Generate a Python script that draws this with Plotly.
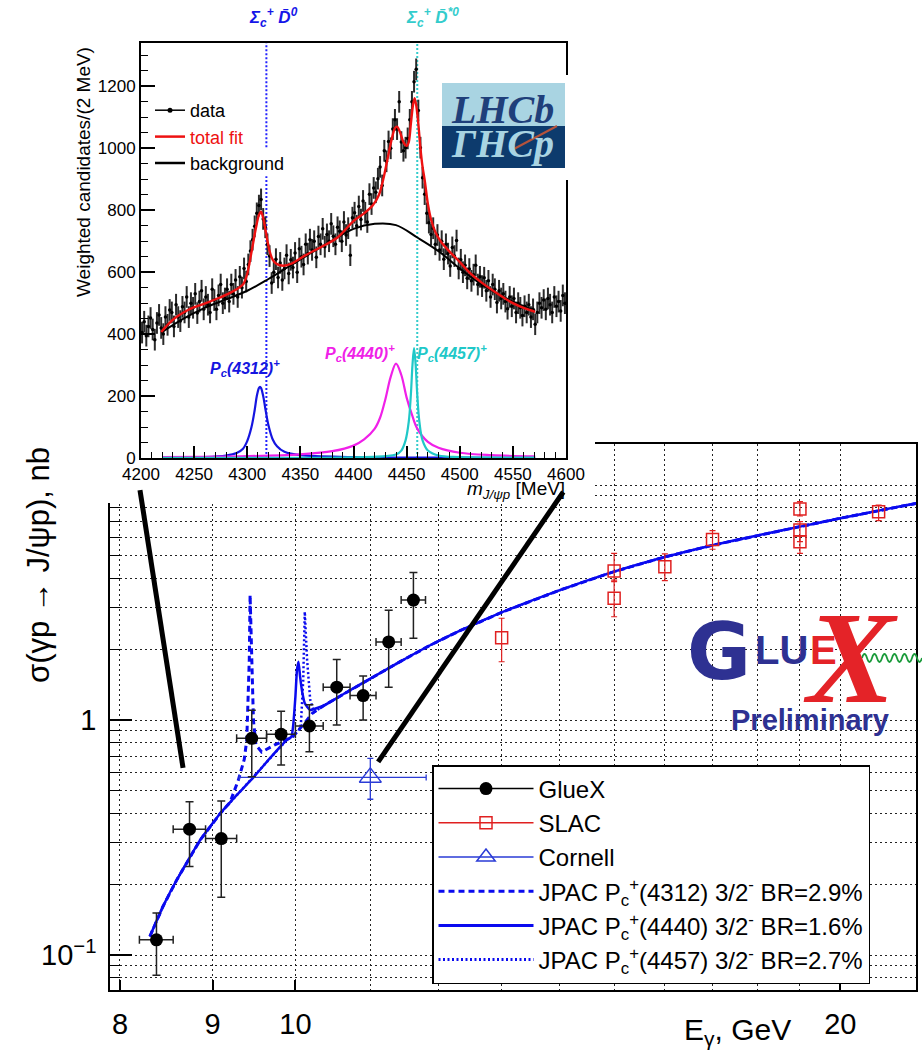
import plotly.graph_objects as go

W, H = 922, 1052


def px(x):
    return x / W


def py(y):
    return 1 - y / H


SANS = "Liberation Sans, Arial, Helvetica, sans-serif"
SERIF = "Liberation Serif, DejaVu Serif, serif"

# ---------------- main panel: sigma(gamma p -> J/psi p) versus E_gamma ----------------
gluex_E = [8.38, 8.74, 9.10, 9.46, 9.82, 10.18, 10.54, 10.90, 11.26, 11.62]
gluex_E_lo = [8.20, 8.56, 8.92, 9.28, 9.64, 10.00, 10.36, 10.72, 11.08, 11.44]
gluex_E_hi = [8.56, 8.92, 9.28, 9.64, 10.00, 10.36, 10.72, 11.08, 11.44, 11.80]
gluex_sig = [0.116, 0.343, 0.313, 0.836, 0.869, 0.943, 1.38, 1.27, 2.15, 3.24]
gluex_sig_hi = [0.151, 0.449, 0.452, 1.10, 1.09, 1.16, 1.81, 1.54, 2.93, 4.24]
gluex_sig_lo = [0.082, 0.238, 0.176, 0.574, 0.643, 0.733, 0.952, 1.00, 1.38, 2.23]

slac_E = [13.0, 15.0, 15.0, 16.0, 17.0, 19.0, 19.0, 19.0, 21.0]
slac_sig = [2.24, 3.30, 4.31, 4.49, 5.87, 7.91, 6.44, 5.74, 7.70]
slac_sig_hi = [2.71, 3.94, 5.12, 5.09, 6.39, 8.49, 6.98, 6.07, 8.22]
slac_sig_lo = [1.77, 2.75, 3.88, 3.92, 5.33, 7.38, 5.74, 5.12, 7.05]

cornell_E = [11.0]
cornell_E_lo = [9.31]
cornell_E_hi = [11.81]
cornell_sig = [0.570]
cornell_sig_hi = [0.687]
cornell_sig_lo = [0.460]

# JPAC model curves
jpac4440_E = [8.31, 8.45, 8.60, 8.86, 9.09, 9.28, 9.48, 9.68, 9.89, 9.95, 9.97, 10.00,
              10.02, 10.04, 10.06, 10.09, 10.12, 10.19, 10.38, 10.65, 11.0, 11.4, 11.87, 12.33,
              13.0, 14.0, 15.0, 16.0, 17.0, 18.0, 19.0, 20.0, 21.0, 22.0, 22.6]
jpac4440_sig = [0.120, 0.161, 0.209, 0.309, 0.401, 0.479, 0.570, 0.687, 0.822, 0.849, 0.936, 1.256,
                1.632, 1.77, 1.529, 1.299, 1.178, 1.103, 1.158, 1.30, 1.50, 1.755, 2.08, 2.40,
                2.87, 3.57, 4.28, 4.94, 5.54, 6.10, 6.65, 7.22, 7.78, 8.34, 8.68]

jpac4312_E = [8.31, 8.45, 8.60, 8.86, 9.09, 9.20, 9.30, 9.37, 9.40, 9.43, 9.44, 9.46, 9.48,
              9.51, 9.58, 9.74, 9.96, 10.10, 10.22, 10.38, 10.65, 11.0, 11.4, 11.87, 12.33,
              13.0, 14.0, 15.0, 16.0, 17.0, 18.0, 19.0, 20.0, 21.0, 22.0, 22.6]
jpac4312_sig = [0.120, 0.161, 0.209, 0.309, 0.401, 0.445, 0.555, 0.680, 0.822, 1.80, 3.40, 1.80, 1.00,
                0.783, 0.731, 0.783, 0.846, 0.955, 1.07, 1.158, 1.30, 1.50, 1.755, 2.08, 2.40,
                2.87, 3.57, 4.28, 4.94, 5.54, 6.10, 6.65, 7.22, 7.78, 8.34, 8.68]

jpac4457_E = [8.31, 8.45, 8.60, 8.86, 9.09, 9.28, 9.48, 9.68, 9.89, 9.96, 10.04, 10.07,
              10.10, 10.12, 10.15, 10.19, 10.24, 10.34, 10.38, 10.65, 11.0, 11.4, 11.87, 12.33,
              13.0, 14.0, 15.0, 16.0, 17.0, 18.0, 19.0, 20.0, 21.0, 22.0, 22.6]
jpac4457_sig = [0.120, 0.161, 0.209, 0.309, 0.401, 0.479, 0.570, 0.687, 0.822, 0.846, 0.90, 0.952,
                1.48, 2.89, 1.80, 1.22, 1.08, 1.136, 1.158, 1.30, 1.50, 1.755, 2.08, 2.40,
                2.87, 3.57, 4.28, 4.94, 5.54, 6.10, 6.65, 7.22, 7.78, 8.34, 8.68]

x_major = [8, 9, 10, 20]
x_major_text = ["8", "9", "10", "20"]
x_minor = [11, 12, 13, 14, 15, 16, 17, 18, 19]
y_major = [0.1, 1, 10]
y_major_text = ["10<sup>\u22121</sup>", "1", "10"]
y_minor = [0.08, 0.09, 0.2, 0.3, 0.4, 0.5, 0.6, 0.7, 0.8, 0.9, 2, 3, 4, 5, 6, 7, 8, 9]

# pointer lines from the mass window down to the photon-energy axis: (E0, sig0, E1, sig1)
pointer_left = (8.206, 9.52, 8.668, 0.625)
pointer_right = (14.06, 9.34, 11.11, 0.663)

# ---------------- inset: LHCb m(J/psi p) spectrum ----------------
lhcb_m = list(range(4201, 4600, 2))
lhcb_counts = [
    405, 440, 395, 425, 452, 415, 382, 436, 462, 420,
    400, 455, 430, 478, 470, 425, 495, 455, 442, 488,
    470, 520, 455, 500, 485, 530, 468, 505, 540, 480,
    520, 495, 470, 545, 510, 480, 525, 560, 500, 515,
    545, 505, 560, 530, 575, 520, 585, 550, 612, 570,
    625, 668, 705, 748, 790, 815, 835, 772, 745, 690,
    652, 565, 600, 642, 583, 630, 575, 612, 655, 596,
    640, 615, 662, 600, 676, 650, 625, 690, 660, 705,
    672, 700, 648, 715, 690, 740, 682, 722, 700, 756,
    716, 690, 745, 732, 700, 762, 720, 742, 655, 776,
    792, 750, 812, 770, 830, 792, 762, 852, 820, 872,
    858, 902, 940, 880, 992, 958, 1022, 1000, 1062, 1092,
    1062, 1150, 1020, 992, 1002, 1032, 1092, 1150, 1215, 1255,
    1122, 1002, 905, 852, 790, 760, 722, 742, 690, 720,
    672, 700, 642, 690, 660, 620, 680, 652, 702, 612,
    640, 600, 622, 580, 610, 572, 592, 622, 560, 585,
    555, 582, 540, 572, 520, 560, 545, 502, 540, 515,
    530, 505, 482, 520, 490, 515, 470, 500, 485, 460,
    490, 470, 495, 455, 480, 432, 470, 500, 485, 510,
    480, 515, 495, 470, 520, 490, 505, 475, 525, 500,
]
lhcb_err = 35

fit_m = [4219, 4225, 4232, 4240, 4250, 4261, 4272, 4282, 4290, 4296, 4300, 4304, 4308, 4311,
         4313, 4315, 4318, 4321, 4324, 4328, 4334, 4342, 4355, 4370, 4385, 4400, 4410, 4418,
         4424, 4428, 4432, 4436, 4439, 4441, 4444, 4447, 4450, 4452, 4454, 4456, 4457.5, 4459,
         4461, 4463, 4465, 4467, 4470, 4473, 4477, 4482, 4490, 4498, 4510, 4520, 4535, 4550,
         4562, 4571]
fit_v = [407, 430, 452, 470, 487, 500, 515, 530, 545, 560, 595, 665, 740, 785,
         795, 775, 720, 668, 640, 626, 621, 628, 655, 682, 712, 765, 790, 815,
         850, 900, 965, 1030, 1065, 1070, 1050, 1020, 1008, 1020, 1080, 1140, 1162, 1140,
         1080, 1000, 940, 897, 820, 770, 730, 700, 668, 640, 596, 568, 532, 500,
         482, 472]

bkg_m = [4219, 4240, 4260, 4280, 4300, 4320, 4340, 4360, 4380, 4400, 4420, 4440, 4460,
         4480, 4500, 4520, 4540, 4560, 4571]
bkg_v = [405, 450, 485, 512, 540, 578, 620, 662, 702, 740, 756, 752, 712,
         668, 612, 562, 522, 490, 476]

pc4312_m = [4220, 4260, 4280, 4290, 4296, 4300, 4304, 4307, 4309, 4311, 4312, 4313, 4315,
            4317, 4320, 4324, 4328, 4335, 4350, 4400, 4500, 4571]
pc4312_v = [1, 3, 8, 16, 30, 55, 100, 155, 200, 226, 230, 226, 200,
            160, 105, 60, 38, 20, 9, 3, 1, 0.5]

pc4440_m = [4220, 4300, 4350, 4380, 4400, 4410, 4420, 4425, 4430, 4435, 4440, 4445, 4450,
            4455, 4460, 4470, 4480, 4500, 4530, 4571]
pc4440_v = [3, 6, 12, 22, 40, 60, 95, 130, 190, 262, 305, 268, 195,
            140, 95, 52, 33, 17, 9, 5]

pc4457_m = [4220, 4400, 4430, 4440, 4445, 4449, 4452, 4454, 4455.5, 4457, 4458.5, 4460,
            4462, 4465, 4470, 4480, 4500, 4571]
pc4457_v = [0.5, 2, 6, 11, 24, 57, 117, 205, 300, 355, 300, 205,
            117, 57, 24, 8, 3, 1]

thr_sigma_d0 = 4318.0      # Sigma_c+ Dbar0 threshold
thr_sigma_dst0 = 4460.0    # Sigma_c+ Dbar*0 threshold


def diff(a, b):
    return [x - y for x, y in zip(a, b)]


BLUE = "#0a0aef"
fig = go.Figure()

# JPAC curves
fig.add_trace(go.Scatter(x=jpac4312_E, y=jpac4312_sig, mode="lines", showlegend=False,
                         line=dict(color=BLUE, width=3, dash="6px,4px"), hoverinfo="skip"))
fig.add_trace(go.Scatter(x=jpac4457_E, y=jpac4457_sig, mode="lines", showlegend=False,
                         line=dict(color=BLUE, width=2.5, dash="2px,2.5px"), hoverinfo="skip"))
fig.add_trace(go.Scatter(x=jpac4440_E, y=jpac4440_sig, mode="lines", showlegend=False,
                         line=dict(color=BLUE, width=2.5, shape="spline", smoothing=0.4),
                         hoverinfo="skip"))

# Cornell
fig.add_trace(go.Scatter(
    x=cornell_E, y=cornell_sig, mode="markers", showlegend=False,
    marker=dict(symbol="triangle-up-open", size=19, color="#2a3bd6", line=dict(width=1.5)),
    error_x=dict(type="data", symmetric=False, array=diff(cornell_E_hi, cornell_E),
                 arrayminus=diff(cornell_E, cornell_E_lo), color="#2a3bd6", thickness=1.3, width=3),
    error_y=dict(type="data", symmetric=False, array=diff(cornell_sig_hi, cornell_sig),
                 arrayminus=diff(cornell_sig, cornell_sig_lo), color="#2a3bd6", thickness=1.3, width=3)))

# SLAC
fig.add_trace(go.Scatter(
    x=slac_E, y=slac_sig, mode="markers", showlegend=False,
    marker=dict(symbol="square-open", size=12, color="#e02020", line=dict(width=1.5)),
    error_y=dict(type="data", symmetric=False, array=diff(slac_sig_hi, slac_sig),
                 arrayminus=diff(slac_sig, slac_sig_lo), color="#e02020", thickness=1.2, width=3)))

# GlueX
fig.add_trace(go.Scatter(
    x=gluex_E, y=gluex_sig, mode="markers", showlegend=False,
    marker=dict(symbol="circle", size=13, color="black"),
    error_x=dict(type="data", symmetric=False, array=diff(gluex_E_hi, gluex_E),
                 arrayminus=diff(gluex_E, gluex_E_lo), color="#222", thickness=1.5, width=4),
    error_y=dict(type="data", symmetric=False, array=diff(gluex_sig_hi, gluex_sig),
                 arrayminus=diff(gluex_sig, gluex_sig_lo), color="#222", thickness=1.5, width=4)))

# legend entries for the main panel
leg_items = [
    ("GlueX", dict(color="black", width=1.5), dict(symbol="circle", size=13, color="black")),
    ("SLAC", dict(color="#e02020", width=1.5),
     dict(symbol="square-open", size=12, color="#e02020", line=dict(width=1.5))),
    ("Cornell", dict(color="#2a3bd6", width=1.5),
     dict(symbol="triangle-up-open", size=16, color="#2a3bd6", line=dict(width=1.5))),
    ("JPAC P<sub>c</sub><sup>+</sup>(4312) 3/2<sup>-</sup> BR=2.9%",
     dict(color=BLUE, width=3, dash="6px,4px"), None),
    ("JPAC P<sub>c</sub><sup>+</sup>(4440) 3/2<sup>-</sup> BR=1.6%",
     dict(color=BLUE, width=3), None),
    ("JPAC P<sub>c</sub><sup>+</sup>(4457) 3/2<sup>-</sup> BR=2.7%",
     dict(color=BLUE, width=3, dash="2px,2.5px"), None),
]
for name, ln, mk in leg_items:
    fig.add_trace(go.Scatter(x=[None], y=[None], name=name, legend="legend",
                             mode="lines+markers" if mk else "lines",
                             line=ln, marker=mk if mk else None))

# blank panel that masks the upper-left corner of the main frame
fig.add_trace(go.Scatter(x=[None], y=[None], xaxis="x2", yaxis="y2", showlegend=False,
                         hoverinfo="skip"))

# ---------------- inset traces ----------------
fig.add_trace(go.Scatter(x=pc4312_m, y=pc4312_v, xaxis="x3", yaxis="y3", mode="lines",
                         showlegend=False, line=dict(color="#1515e0", width=2.2, shape="spline"),
                         hoverinfo="skip"))
fig.add_trace(go.Scatter(x=pc4440_m, y=pc4440_v, xaxis="x3", yaxis="y3", mode="lines",
                         showlegend=False, line=dict(color="#f020e8", width=2.2, shape="spline"),
                         hoverinfo="skip"))
fig.add_trace(go.Scatter(x=pc4457_m, y=pc4457_v, xaxis="x3", yaxis="y3", mode="lines",
                         showlegend=False, line=dict(color="#20c8c8", width=2.2, shape="spline"),
                         hoverinfo="skip"))
fig.add_trace(go.Scatter(x=lhcb_m, y=lhcb_counts, xaxis="x3", yaxis="y3", mode="markers",
                         showlegend=False, marker=dict(size=3.5, color="black"),
                         error_y=dict(type="constant", value=lhcb_err, color="#2a2a2a",
                                      thickness=2, width=0),
                         hoverinfo="skip"))
fig.add_trace(go.Scatter(x=bkg_m, y=bkg_v, xaxis="x3", yaxis="y3", mode="lines",
                         showlegend=False, line=dict(color="black", width=2, shape="spline"),
                         hoverinfo="skip"))
fig.add_trace(go.Scatter(x=fit_m, y=fit_v, xaxis="x3", yaxis="y3", mode="lines",
                         showlegend=False, line=dict(color="#ee1111", width=2.4, shape="spline",
                                                     smoothing=0.8),
                         hoverinfo="skip"))

inset_leg = [
    ("data", "lines+markers", dict(color="black", width=1.5), dict(size=5, color="black")),
    ("<span style='color:#ee1111'>total fit</span>", "lines", dict(color="#ee1111", width=2.5), None),
    ("background", "lines", dict(color="black", width=2.5), None),
]
for name, mode, ln, mk in inset_leg:
    fig.add_trace(go.Scatter(x=[None], y=[None], xaxis="x3", yaxis="y3", name=name,
                             legend="legend2", mode=mode, line=ln, marker=mk))

# ---------------- axes ----------------
grid = dict(showgrid=True, gridcolor="#222", gridwidth=1, griddash="2px,3px")
fig.update_layout(
    template="none",
    xaxis=dict(type="log", range=[0.89757, 1.34287], domain=[px(110), px(916)], anchor="y",
               automargin=False,
               showline=True, linecolor="black", linewidth=1.5, mirror=True,
               ticks="inside", tickmode="array", tickvals=x_major, ticktext=x_major_text,
               ticklen=10, tickwidth=1.5, tickcolor="black", zeroline=False,
               tickfont=dict(family=SANS, size=29, color="black"), ticklabelstandoff=7,
               minor=dict(tickmode="array", tickvals=x_minor, ticks="", **grid),
               **grid),
    yaxis=dict(type="log", range=[-1.1489, 1.1745], domain=[py(990), py(444)], anchor="x",
               automargin=False,
               showline=True, linecolor="black", linewidth=1.5, mirror=True,
               ticks="inside", tickmode="array", tickvals=y_major, ticktext=y_major_text,
               ticklen=22, tickwidth=1.5, tickcolor="black", zeroline=False,
               tickfont=dict(family=SANS, size=29, color="black"), ticklabelstandoff=6,
               minor=dict(tickmode="array", tickvals=y_minor, ticks="inside", ticklen=10,
                          tickwidth=1.2, tickcolor="black", **grid),
               **grid),
    xaxis2=dict(domain=[0, px(595)], anchor="y2", visible=False, range=[0, 1], automargin=False),
    yaxis2=dict(domain=[py(503), 1], anchor="x2", visible=False, range=[0, 1], automargin=False),
    xaxis3=dict(domain=[px(141), px(566)], anchor="y3", range=[4200, 4600], automargin=False,
                showline=True, linecolor="black", linewidth=2, mirror=True, showgrid=False,
                zeroline=False, ticks="inside", dtick=50, tick0=4200, ticklen=12, tickwidth=1.5,
                tickcolor="black", tickfont=dict(family=SANS, size=17, color="black"),
                minor=dict(dtick=10, ticks="inside", ticklen=6, tickwidth=1.2, tickcolor="black")),
    yaxis3=dict(domain=[py(458), py(43)], anchor="x3", range=[0, 1340], automargin=False,
                showline=True, linecolor="black", linewidth=2, mirror=True, showgrid=False,
                zeroline=False, ticks="inside", dtick=200, tick0=0, ticklen=14, tickwidth=1.5,
                tickcolor="black", tickfont=dict(family=SANS, size=17, color="black"),
                minor=dict(dtick=50, ticks="inside", ticklen=7, tickwidth=1.2, tickcolor="black")),
    legend=dict(x=px(432), y=py(765), xanchor="left", yanchor="top", bgcolor="white",
                bordercolor="black", borderwidth=1.5, itemwidth=95, tracegroupgap=0,
                font=dict(family=SANS, size=24, color="black")),
    legend2=dict(x=px(150), y=py(92), xanchor="left", yanchor="top", bgcolor="rgba(0,0,0,0)",
                 borderwidth=0, itemwidth=30, font=dict(family=SANS, size=18, color="black")),
    plot_bgcolor="white", paper_bgcolor="white",
    width=W, height=H, autosize=False, margin=dict(l=0, r=0, t=0, b=0, autoexpand=False),
)

# ---------------- shapes ----------------
shapes = []
# threshold markers in the inset
for y0, y1 in [(0, 910), (1003, 1340)]:
    shapes.append(dict(type="line", xref="x3", yref="y3", x0=thr_sigma_d0, x1=thr_sigma_d0,
                       y0=y0, y1=y1, line=dict(color="#2222ff", width=2, dash="2px,2px"),
                       layer="below"))
shapes.append(dict(type="line", xref="x3", yref="y3", x0=thr_sigma_dst0, x1=thr_sigma_dst0,
                   y0=0, y1=1340, line=dict(color="#33cccc", width=2, dash="2px,2px"),
                   layer="below"))
# pointer lines
for e0, s0, e1, s1 in [pointer_left, pointer_right]:
    shapes.append(dict(type="line", xref="x", yref="y", x0=e0, y0=s0, x1=e1, y1=s1,
                       line=dict(color="black", width=5), layer="above"))
# LHCb logo block
shapes.append(dict(type="rect", xref="paper", yref="paper", x0=px(565), x1=px(577),
                   y0=py(180), y1=py(75), fillcolor="white", line=dict(width=0), layer="above"))
shapes.append(dict(type="rect", xref="paper", yref="paper", x0=px(442), x1=px(565),
                   y0=py(126), y1=py(83), fillcolor="#a9d4e2", line=dict(width=0), layer="above"))
shapes.append(dict(type="rect", xref="paper", yref="paper", x0=px(442), x1=px(565),
                   y0=py(168), y1=py(126), fillcolor="#0d3b6d", line=dict(width=0), layer="above"))
shapes.append(dict(type="line", xref="paper", yref="paper", x0=px(512), y0=py(150), x1=px(557),
                   y1=py(126), line=dict(color="#b5533c", width=2), layer="above"))
# GlueX wavy photon line
wx, wy, amp, half = 862.0, 658.0, 4.0, 5.0
path = f"M{px(wx)},{py(wy)}"
sgn = -1
while wx + half <= 922.5:
    path += f" Q{px(wx + half / 2)},{py(wy + sgn * 2 * amp)} {px(wx + half)},{py(wy)}"
    wx += half
    sgn = -sgn
shapes.append(dict(type="path", xref="paper", yref="paper", path=path,
                   line=dict(color="#1a9a3a", width=1.8), layer="above"))
fig.update_layout(shapes=shapes)

# ---------------- annotations ----------------
ann = []


def text(x, y, s, size, color="black", family=SANS, angle=0, xanchor="center", yanchor="middle",
         xref="paper", yref="paper"):
    ann.append(dict(x=x, y=y, xref=xref, yref=yref, text=s, showarrow=False, textangle=angle,
                    xanchor=xanchor, yanchor=yanchor,
                    font=dict(family=family, size=size, color=color)))


text(px(38), py(565), "\u03c3(\u03b3p \u2192 J/\u03c8p), nb", 31, angle=-90)
text(px(737), py(1031), "E<sub>\u03b3</sub>, GeV", 30)
text(px(84), py(172), "Weighted candidates/(2 MeV)", 19, angle=-90)
text(px(567), py(490), "<i>m</i><sub><i>J/\u03c8p</i></sub> [MeV]", 19, xanchor="right")
text(px(273), py(18), "<b><i>\u03a3<sub>c</sub><sup>+</sup> D\u0304<sup>0</sup></i></b>", 17,
     color="#1515e8")
text(px(432), py(18), "<b><i>\u03a3<sub>c</sub><sup>+</sup> D\u0304<sup>*0</sup></i></b>", 17,
     color="#33cccc")
text(4298, 290, "<b><i>P<sub>c</sub>(4312)<sup>+</sup></i></b>", 16, color="#1515e0",
     xref="x3", yref="y3")
text(4406, 339, "<b><i>P<sub>c</sub>(4440)<sup>+</sup></i></b>", 16, color="#f020e8",
     xref="x3", yref="y3")
text(4493, 339, "<b><i>P<sub>c</sub>(4457)<sup>+</sup></i></b>", 16, color="#20c8c8",
     xref="x3", yref="y3")
# LHCb logo lettering and its reflection
text(px(503), py(110), "<b><i>LHCb</i></b>", 40, color="#1f3f7a", family=SERIF)
text(px(503), py(143), "<b><i>\u0393HCp</i></b>", 40, color="#a9d4e2", family=SERIF)
# GlueX logo
text(px(719), py(652), "<b>G</b>", 78, color="#2e3192", family="DejaVu Sans, " + SANS)
text(px(781), py(650), "<b>LU</b>", 40, color="#2e3192", family="Liberation Sans Narrow, " + SANS)
text(px(823), py(650), "<b>E</b>", 40, color="#e42328", family="Liberation Sans Narrow, " + SANS)
text(px(850), py(657), "<b><i>X</i></b>", 132, color="#e42328", family=SERIF)
text(px(810), py(720), "<b>Preliminary</b>", 29, color="#2e3192")
fig.update_layout(annotations=ann)

fig.write_html("out.html")
